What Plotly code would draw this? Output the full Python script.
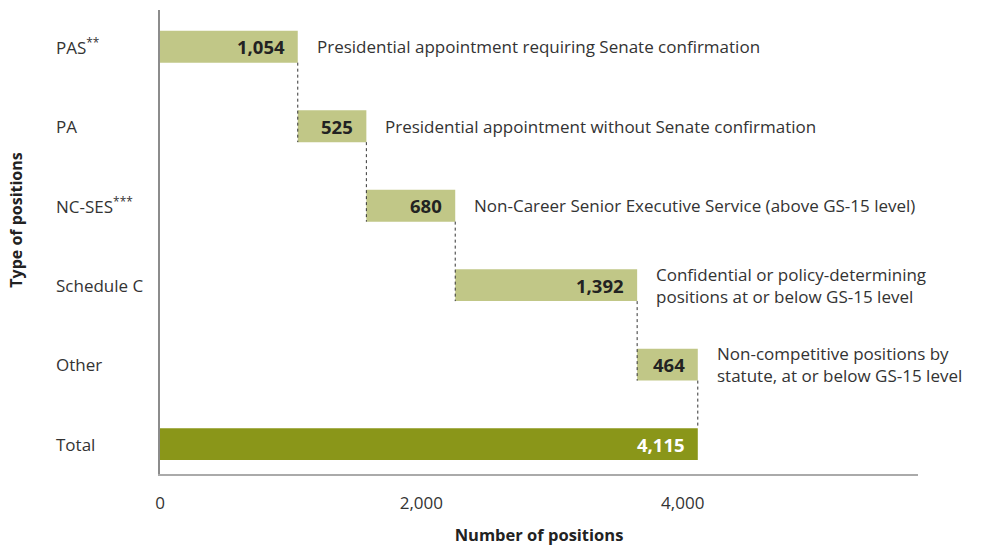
import plotly.graph_objects as go

categories = ["PAS<sup>**</sup>", "PA", "NC-SES<sup>***</sup>", "Schedule C", "Other", "Total"]
values = [1054, 525, 680, 1392, 464, 4115]
value_labels = ["1,054", "525", "680", "1,392", "464", "4,115"]
descriptions = [
    "Presidential appointment requiring Senate confirmation",
    "Presidential appointment without Senate confirmation",
    "Non-Career Senior Executive Service (above GS-15 level)",
    "Confidential or policy-determining<br>positions at or below GS-15 level",
    "Non-competitive positions by<br>statute, at or below GS-15 level",
    "",
]
x_ticks = [0, 2000, 4000]
x_tick_labels = ["0", "2,000", "4,000"]

FONT = "Open Sans"
LIGHT = "#c1c787"
DARK = "#8a9619"
TXT = "#333333"

n = len(categories)
ypos = list(range(n))
bases = []
cum = 0
for i, v in enumerate(values):
    if i == n - 1:
        bases.append(0)
    else:
        bases.append(cum)
        cum += v
ends = [b + v for b, v in zip(bases, values)]
half = 0.2

fig = go.Figure()
fig.add_trace(go.Bar(
    y=ypos, x=values, base=bases, orientation="h", width=2 * half,
    marker=dict(color=[LIGHT] * (n - 1) + [DARK], line=dict(width=0)),
    hoverinfo="skip", showlegend=False,
))

# connectors
for i in range(n - 1):
    y0 = ypos[i] + half
    y1 = ypos[i + 1] + half if i + 1 < n - 1 else ypos[i + 1] - half
    fig.add_trace(go.Scatter(
        x=[ends[i], ends[i]], y=[y0, y1], mode="lines",
        line=dict(color="#333333", width=1, dash="dot"),
        hoverinfo="skip", showlegend=False,
    ))

annotations = []
for i in range(n):
    annotations.append(dict(
        x=ends[i], y=ypos[i], xref="x", yref="y", text="<b>" + value_labels[i] + "</b>",
        xanchor="right", yanchor="middle", xshift=-11, showarrow=False,
        font=dict(family=FONT, size=18.5, color="#ffffff" if i == n - 1 else "#222222"),
    ))
    if descriptions[i]:
        annotations.append(dict(
            x=ends[i], y=ypos[i], xref="x", yref="y", text=descriptions[i],
            xanchor="left", yanchor="middle", xshift=17, showarrow=False, align="left",
            font=dict(family=FONT, size=17, color=TXT),
        ))
    annotations.append(dict(
        x=-0.14, y=ypos[i], xref="paper", yref="y", text=categories[i],
        xanchor="left", yanchor="middle", showarrow=False,
        font=dict(family=FONT, size=17, color=TXT),
    ))

annotations.append(dict(
    x=-0.19, y=0.548, xref="paper", yref="paper", text="<b>Type of positions</b>",
    textangle=-90, xanchor="center", yanchor="middle", showarrow=False,
    font=dict(family=FONT, size=16, color="#222222"),
))

fig.update_layout(
    width=982, height=552,
    margin=dict(l=160, r=64, t=10, b=75),
    plot_bgcolor="white", paper_bgcolor="white",
    font=dict(family=FONT, color=TXT),
    annotations=annotations,
    xaxis=dict(
        range=[0, 5800], tickvals=x_ticks, ticktext=x_tick_labels,
        showgrid=False, zeroline=False, showline=True, linecolor="#aaaaaa", linewidth=1.5,
        ticks="", ticklabelstandoff=13, tickfont=dict(family=FONT, size=17, color=TXT),
        title=dict(text="<b>Number of positions</b>", standoff=16,
                   font=dict(family=FONT, size=16.5, color="#222222")),
        fixedrange=True,
    ),
    yaxis=dict(
        range=[5.375, -0.4625], showticklabels=False, showgrid=False, zeroline=False,
        showline=True, linecolor="#8c8c8c", linewidth=2, ticks="", fixedrange=True,
    ),
)

fig.write_html("out.html")
